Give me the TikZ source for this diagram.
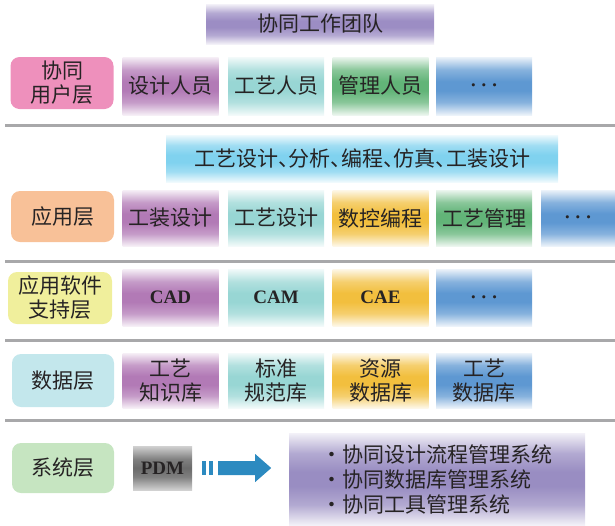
\documentclass[tikz,border=0pt]{standalone}
\usepackage{fontspec}
\setmainfont{Noto Sans CJK SC}
\newfontfamily\latf{Liberation Serif}
\definecolor{txt}{HTML}{262324}
\definecolor{cpur}{HTML}{B27AB6}
\definecolor{cteal}{HTML}{98D6D4}
\definecolor{cgreen}{HTML}{62B478}
\definecolor{cblue}{HTML}{5E98D2}
\definecolor{cgold}{HTML}{F2BF3E}
\definecolor{cteam}{HTML}{9C8DC4}
\definecolor{ccyan}{HTML}{80D2EF}
\definecolor{csys}{HTML}{998DC2}
\definecolor{cpdm}{HTML}{6E6E6E}
\definecolor{cpink}{HTML}{EE90BC}
\definecolor{corange}{HTML}{F8C198}
\definecolor{cyellow}{HTML}{F0EF9C}
\definecolor{clcyan}{HTML}{C3E7EC}
\definecolor{clgreen}{HTML}{C6E5C1}
\definecolor{cline}{HTML}{A8A8AA}
\definecolor{carrow}{HTML}{2C8AC0}
\newcommand\mkband[2]{\pgfdeclareverticalshading{band#1}{100bp}{color(0bp)=(#2!12!white); color(25bp)=(#2!12!white); color(36bp)=(#2!75!white); color(46bp)=(#2); color(54bp)=(#2); color(64bp)=(#2!75!white); color(75bp)=(#2!12!white); color(100bp)=(#2!12!white)}}
\mkband{pur}{cpur}
\mkband{teal}{cteal}
\mkband{green}{cgreen}
\mkband{blue}{cblue}
\mkband{gold}{cgold}
\mkband{team}{cteam}
\mkband{cyan}{ccyan}
\mkband{sys}{csys}
\pgfdeclareverticalshading{bandpdm}{100bp}{color(0bp)=(black!18); color(25bp)=(black!18); color(40bp)=(black!50); color(50bp)=(black!58); color(60bp)=(black!50); color(75bp)=(black!18); color(100bp)=(black!18)}
\newcommand\mydots{{\boldmath$\cdots$}}
\tikzset{
  base/.style={inner sep=0pt, align=center, text=txt, font=\fontsize{21}{24}\selectfont},
  gb/.style={base, shade, shading=band#1},
  lab/.style={base, rounded corners=9pt, fill=#1},
  cell/.style={minimum width=96, minimum height=#1},
  sep/.style={cline, line width=3pt},
  lat/.style={font=\latf\bfseries\fontsize{19}{22}\selectfont}
}
\begin{document}
\begin{tikzpicture}[x=1pt,y=-1pt]
\useasboundingbox (0,0) rectangle (615,525);
% top
\node[gb=team, minimum width=228, minimum height=40] (team) at (320,24) {协同工作团队};
% row 1
\node[lab=cpink, minimum width=103, minimum height=52] (l1) at (62,83) {协同\\用户层};
\node[gb=pur, cell=58] (r1a) at (170.5,86) {设计人员};
\node[gb=teal, cell=58] (r1b) at (276,86) {工艺人员};
\node[gb=green, cell=58] (r1c) at (380.5,86) {管理人员};
\node[gb=blue, cell=58] (r1d) at (484,86) {\mydots};
\draw[sep] (5,125.5) -- (615,125.5);
% row 2
\node[gb=cyan, minimum width=392, minimum height=47] (hdr) at (362,158.5) {工艺设计、\kern-.5em 分析、\kern-.5em 编程、\kern-.5em 仿真、\kern-.5em 工装设计};
\node[lab=corange, minimum width=103, minimum height=51] (l2) at (62.5,216.5) {应用层};
\node[gb=pur, cell=56] (r2a) at (170.5,218) {工装设计};
\node[gb=teal, cell=56] (r2b) at (276,218) {工艺设计};
\node[gb=gold, cell=56] (r2c) at (380.5,218) {数控编程};
\node[gb=green, cell=56] (r2d) at (484,218) {工艺管理};
\node[gb=blue, minimum width=74, minimum height=56] (r2e) at (578,218) {\mydots};
\draw[sep] (5,261.5) -- (615,261.5);
% row 3
\node[lab=cyellow, minimum width=104, minimum height=52] (l3) at (60,298) {应用软件\\支持层};
\node[gb=pur, cell=57, lat] (r3a) at (170.5,297.5) {CAD};
\node[gb=teal, cell=57, lat] (r3b) at (276,297.5) {CAM};
\node[gb=gold, cell=57, lat] (r3c) at (380.5,297.5) {CAE};
\node[gb=blue, cell=57] (r3d) at (484,297.5) {\mydots};
\draw[sep] (5,340.5) -- (615,340.5);
% row 4
\node[lab=clcyan, minimum width=102, minimum height=53] (l4) at (63,380.5) {数据层};
\node[gb=pur, cell=55] (r4a) at (170.5,380.5) {工艺\\知识库};
\node[gb=teal, cell=55] (r4b) at (276,380.5) {标准\\规范库};
\node[gb=gold, cell=55] (r4c) at (380.5,380.5) {资源\\数据库};
\node[gb=blue, cell=55] (r4d) at (484,380.5) {工艺\\数据库};
\draw[sep] (5,420.5) -- (615,420.5);
% row 5
\node[lab=clgreen, minimum width=102, minimum height=50] (l5) at (63,468) {系统层};
\node[base, shade, shading=bandpdm, minimum width=59, minimum height=44, lat] (pdm) at (162.5,468) {PDM};
\node[gb=sys, minimum width=296, minimum height=92, align=left, font=\fontsize{21}{25}\selectfont] (sys) at (437,479) {·协同设计流程管理系统\\·协同数据库管理系统\\·协同工具管理系统};
\begin{scope}[shift={(pdm.east)}]
  \fill[carrow] (10,-7) rectangle (14,7);
  \fill[carrow] (17,-7) rectangle (21,7);
  \fill[carrow] (26,-7) -- (63,-7) -- (63,-14) -- (79,0) -- (63,14) -- (63,7) -- (26,7) -- cycle;
\end{scope}
\end{tikzpicture}
\end{document}
